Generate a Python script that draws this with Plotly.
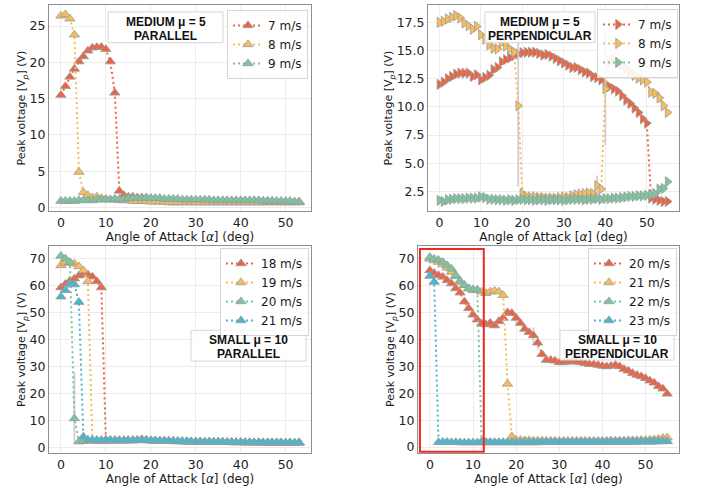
import plotly.graph_objects as go
from plotly.subplots import make_subplots

# ---------------- data ----------------
# angle of attack (deg)
angles_medium_par = list(range(0, 54))
angles_medium_perp = list(range(0, 56))
angles_small_par = list(range(0, 54))
angles_small_perp = list(range(0, 56))

# MEDIUM mu = 5, PARALLEL
med_par_7 = [15.5, 16.7, 18.0, 19.1, 20.1, 20.8, 21.6, 22.0, 22.1, 22.1,
             21.8, 20.1, 15.8, 2.3, 1.7, 1.5, 1.5, 1.4, 1.4, 1.3,
             1.3, 1.2, 1.2, 1.1, 1.1, 1.0, 1.0, 1.0, 0.9, 0.9,
             0.9, 0.9, 0.9, 0.9, 0.9, 0.9, 0.9, 0.9, 0.9, 0.9,
             0.9, 0.9, 0.9, 0.9, 0.9, 0.9, 0.9, 0.9, 0.8, 0.8,
             0.8, 0.8, 0.8, 0.8]
med_par_8 = [26.4, 26.6, 26.0, 23.8, 4.9, 2.1, 1.7, 1.4, 1.5, 1.3,
             1.2, 1.1, 1.1, 1.0, 1.0, 1.0, 0.9, 0.9, 0.9, 0.9,
             0.8, 0.8, 0.8, 0.8, 0.7, 0.7, 0.7, 0.7, 0.7, 0.7,
             0.7, 0.7, 0.7, 0.7, 0.7, 0.7, 0.7, 0.7, 0.7, 0.7,
             0.7, 0.7, 0.7, 0.7, 0.7, 0.7, 0.7, 0.7, 0.7, 0.7,
             0.7, 0.7, 0.7, 0.7]
med_par_9 = [0.9, 0.9, 0.9, 0.9, 1.0, 1.0, 1.0, 1.0, 1.1, 1.1,
             1.1, 1.1, 1.2, 1.2, 1.2, 1.3, 1.3, 1.3, 1.3, 1.4,
             1.3, 1.3, 1.3, 1.2, 1.2, 1.2, 1.2, 1.1, 1.1, 1.1,
             1.1, 1.1, 1.1, 1.1, 1.0, 1.0, 1.0, 1.0, 1.0, 1.0,
             1.0, 1.0, 1.0, 1.0, 1.0, 0.9, 0.9, 0.9, 0.9, 0.9,
             0.9, 0.9, 0.8, 0.8]

# MEDIUM mu = 5, PERPENDICULAR
med_perp_7 = [12.0, 12.2, 12.5, 12.7, 12.9, 13.0, 13.0, 13.0, 12.7, 12.85,
              12.4, 12.6, 12.8, 13.3, 13.5, 14.0, 14.2, 14.35, 14.55, 14.7,
              14.8, 14.85, 14.85, 14.85, 14.75, 14.6, 14.65, 14.5, 14.3, 14.1,
              13.9, 13.7, 13.5, 13.5, 13.3, 13.1, 13.0, 12.7, 12.6, 12.4,
              12.0, 11.8, 11.6, 11.4, 11.0, 10.6, 10.3, 9.9, 9.5, 8.95,
              8.55, 1.9, 1.8, 1.7, 1.6, 1.6]
med_perp_8 = [17.5, 17.6, 17.8, 17.95, 18.1, 17.9, 17.45, 17.2, 16.9, 17.15,
              16.4, 16.0, 15.5, 15.2, 15.15, 15.7, 15.4, 15.15, 14.85, 10.1,
              2.3, 2.05, 2.0, 2.0, 1.95, 1.95, 1.9, 1.9, 1.9, 1.95,
              2.0, 1.95, 2.1, 2.2, 2.25, 2.3, 2.35, 2.3, 3.0, 2.7,
              11.6, 14.05, 14.2, 13.9, 13.7, 13.4, 13.1, 12.8, 12.55, 12.4,
              12.2, 11.3, 11.2, 10.8, 10.1, 9.5]
med_perp_9 = [1.7, 1.6, 1.75, 1.8, 1.85, 1.85, 1.85, 1.9, 1.9, 1.9,
              2.0, 1.95, 1.8, 1.8, 1.75, 1.75, 1.7, 1.75, 1.7, 1.75,
              1.8, 1.75, 1.75, 1.7, 1.75, 1.75, 1.7, 1.75, 1.75, 1.75,
              1.7, 1.75, 1.8, 1.8, 1.8, 1.75, 1.8, 1.8, 1.85, 1.8,
              1.85, 1.85, 1.9, 1.9, 1.95, 2.0, 2.05, 2.05, 2.1, 2.1,
              2.15, 2.2, 2.3, 2.7, 2.75, 3.35]

# SMALL mu = 10, PARALLEL
small_par_18 = [59.2, 60.5, 61.7, 62.5, 63.6, 64.3, 64.0, 63.2, 61.5, 59.2,
                2.8, 2.6, 2.6, 2.5, 2.5, 2.5, 2.5, 2.6, 2.7, 2.6,
                2.5, 2.4, 2.4, 2.3, 2.3, 2.2, 2.2, 2.1, 2.1, 2.1,
                2.0, 2.0, 2.0, 2.0, 1.9, 1.9, 1.9, 1.9, 1.8, 1.8,
                1.8, 1.8, 1.8, 1.8, 1.8, 1.7, 1.7, 1.7, 1.7, 1.7,
                1.7, 1.7, 1.7, 1.7]
small_par_19 = [67.4, 68.3, 68.5, 68.0, 67.0, 65.5, 61.5, 2.4, 2.3, 2.3,
                2.3, 2.4, 2.4, 2.4, 2.5, 2.5, 2.6, 2.7, 3.0, 2.8,
                2.6, 2.5, 2.4, 2.4, 2.3, 2.3, 2.2, 2.2, 2.1, 2.1,
                2.1, 2.0, 2.0, 2.0, 2.0, 1.9, 1.9, 1.9, 1.9, 1.8,
                1.8, 1.8, 1.8, 1.8, 1.8, 1.8, 1.7, 1.7, 1.7, 1.7,
                1.7, 1.7, 1.7, 1.7]
small_par_20 = [70.9, 69.9, 68.6, 10.7, 2.1, 2.3, 2.5, 2.6, 2.6, 2.6,
                2.6, 2.6, 2.6, 2.6, 2.6, 2.6, 2.6, 2.6, 2.7, 2.6,
                2.5, 2.5, 2.4, 2.4, 2.3, 2.3, 2.3, 2.2, 2.2, 2.1,
                2.1, 2.1, 2.0, 2.0, 2.0, 2.0, 1.9, 1.9, 1.9, 1.9,
                1.9, 1.8, 1.8, 1.8, 1.8, 1.8, 1.8, 1.8, 1.8, 1.7,
                1.7, 1.7, 1.7, 1.7]
small_par_21 = [55.8, 58.2, 60.6, 60.3, 53.8, 3.9, 2.8, 2.7, 2.7, 2.6,
                2.6, 2.6, 2.6, 2.6, 2.6, 2.6, 2.6, 2.6, 2.6, 2.6,
                2.5, 2.5, 2.4, 2.4, 2.4, 2.3, 2.3, 2.3, 2.2, 2.2,
                2.1, 2.1, 2.1, 2.0, 2.0, 2.0, 2.0, 1.9, 1.9, 1.9,
                1.9, 1.9, 1.8, 1.8, 1.8, 1.8, 1.8, 1.8, 1.8, 1.8,
                1.7, 1.7, 1.7, 1.7]

# SMALL mu = 10, PERPENDICULAR
small_perp_20 = [65.7, 64.7, 63.9, 63.3, 62.0, 60.8, 59.0, 57.4, 54.1, 51.6,
                 49.2, 47.4, 45.9, 45.6, 46.2, 45.2, 46.8, 48.0, 50.1, 49.8,
                 48.0, 46.1, 43.9, 42.7, 41.5, 38.8, 34.5, 32.4, 32.4, 32.1,
                 31.5, 31.5, 31.7, 32.1, 31.7, 31.5, 31.2, 30.8, 30.8, 30.5,
                 30.2, 30.0, 30.2, 30.5, 30.0, 29.0, 28.4, 27.5, 26.8, 26.3,
                 25.6, 24.7, 23.9, 22.6, 21.7, 19.8]
small_perp_21 = [70.0, 69.4, 68.8, 67.9, 66.7, 65.1, 63.5, 61.4, 60.2, 59.0,
                 58.4, 58.4, 57.8, 57.2, 57.8, 58.1, 57.8, 56.5, 23.5, 3.9,
                 2.7, 2.6, 2.5, 2.5, 2.4, 2.4, 2.4, 2.3, 2.3, 2.3,
                 2.3, 2.3, 2.3, 2.3, 2.3, 2.3, 2.3, 2.3, 2.3, 2.3,
                 2.3, 2.3, 2.4, 2.4, 2.4, 2.4, 2.5, 2.5, 2.5, 2.6,
                 2.6, 2.7, 2.8, 3.0, 3.3, 3.5]
small_perp_22 = [70.6, 70.0, 69.6, 68.8, 67.6, 66.3, 63.9, 61.8, 60.2, 59.0,
                 58.6, 58.4, 2.1, 1.9, 1.9, 1.8, 1.8, 1.8, 1.8, 1.8,
                 1.8, 1.8, 1.8, 1.8, 1.8, 1.8, 1.8, 1.8, 1.8, 1.8,
                 1.8, 1.8, 1.8, 1.8, 1.9, 1.9, 1.9, 1.9, 1.9, 1.9,
                 1.9, 1.9, 2.0, 2.0, 2.0, 2.0, 2.0, 2.0, 2.0, 2.1,
                 2.1, 2.1, 2.1, 2.2, 2.2, 2.2]
small_perp_23 = [63.6, 61.4, 1.8, 1.9, 1.9, 1.8, 1.8, 1.7, 1.7, 1.7,
                 1.7, 1.7, 1.7, 1.7, 1.7, 1.7, 1.7, 1.7, 1.7, 1.7,
                 1.7, 1.7, 1.7, 1.7, 1.7, 1.7, 1.8, 1.8, 1.8, 1.8,
                 1.8, 1.8, 1.8, 1.8, 1.8, 1.8, 1.8, 1.8, 1.8, 1.8,
                 1.9, 1.9, 1.9, 1.9, 1.9, 1.9, 1.9, 2.0, 2.0, 2.0,
                 2.0, 2.0, 2.0, 2.1, 2.1, 2.1]

# standard deviations: a typical spread per panel plus the larger ones
err_base = {"med_par": 0.25, "med_perp": 0.2, "small_par": 0.6, "small_perp": 0.7}
err_large = {
    ("med_perp", "8", 19): 7.2,
    ("med_perp", "8", 38): 0.9,
    ("med_perp", "8", 40): 5.0,
    ("med_perp", "8", 53): 0.4,
    ("med_perp", "8", 54): 0.4,
    ("med_perp", "9", 53): 0.35,
    ("med_perp", "9", 54): 0.35,
    ("med_perp", "9", 55): 0.35,
    ("small_perp", "20", 20): 2.0,
    ("small_perp", "20", 24): 3.0,
    ("small_perp", "20", 25): 2.5,
}
# one-sided spread at the stall point of the 20 m/s parallel run
small_par_20_err_up = 17.0
small_par_20_err_down = 9.0

# panel labels (two lines each)
labels = {
    "med_par": ("MEDIUM μ = 5", "PARALLEL"),
    "med_perp": ("MEDIUM μ = 5", "PERPENDICULAR"),
    "small_par": ("SMALL μ = 10", "PARALLEL"),
    "small_perp": ("SMALL μ = 10", "PERPENDICULAR"),
}

# ---------------- style ----------------
COLORS = ["#EB6544", "#F5BE5A", "#7DC4A0", "#46B8D0"]
EDGE = "#9a9a9a"
ERR = "#cfcfcf"
FONT = "DejaVu Sans"
W, H = 702, 491

panels = [
    dict(key="med_par", x=angles_medium_par, series=[("7", med_par_7), ("8", med_par_8), ("9", med_par_9)],
         symbol="triangle-up", dom_x=(49, 311), dom_y=(5, 213), xr=(-2.65, 55.65), yr=(-0.5, 27.9),
         dtick=5, fmt="", legend="legend"),
    dict(key="med_perp", x=angles_medium_perp, series=[("7", med_perp_7), ("8", med_perp_8), ("9", med_perp_9)],
         symbol="triangle-right", dom_x=(428, 679), dom_y=(5, 213), xr=(-2.75, 57.75), yr=(0.73, 19.05),
         dtick=2.5, fmt=".1f", legend="legend2"),
    dict(key="small_par", x=angles_small_par,
         series=[("18", small_par_18), ("19", small_par_19), ("20", small_par_20), ("21", small_par_21)],
         symbol="triangle-up", dom_x=(49, 311), dom_y=(248, 457), xr=(-2.65, 55.65), yr=(-2.2, 74.6),
         dtick=10, fmt="", legend="legend3"),
    dict(key="small_perp", x=angles_small_perp,
         series=[("20", small_perp_20), ("21", small_perp_21), ("22", small_perp_22), ("23", small_perp_23)],
         symbol="triangle-up", dom_x=(418, 679), dom_y=(248, 457), xr=(-2.75, 57.75), yr=(-2.3, 74.8),
         dtick=10, fmt="", legend="legend4"),
]

# legend anchors (px from top-left) and label boxes (left, top, right, bottom)
legend_boxes = {"legend": (227, 10), "legend2": (597, 9), "legend3": (220, 250), "legend4": (588, 250)}
label_boxes = {"med_par": (108, 12, 223, 43), "med_perp": (485, 12, 595, 43),
               "small_par": (191, 333, 306, 364), "small_perp": (560, 333, 674, 363)}

fig = make_subplots(rows=2, cols=2)

for i, p in enumerate(panels):
    row, col = i // 2 + 1, i % 2 + 1
    for j, (speed, vals) in enumerate(p["series"]):
        n = len(vals)
        up = [err_large.get((p["key"], speed, k), err_base[p["key"]]) for k in range(n)]
        down = list(up)
        if p["key"] == "small_par" and speed == "20":
            up[3] = small_par_20_err_up
            down[3] = small_par_20_err_down
        fig.add_trace(go.Scatter(
            x=p["x"], y=vals, mode="lines+markers", name=f"{speed} m/s",
            line=dict(color=COLORS[j], width=2, dash="2px,3px"),
            marker=dict(symbol=p["symbol"], size=9, color=COLORS[j],
                        line=dict(color=EDGE, width=0.8)),
            error_y=dict(type="data", array=up, arrayminus=down, symmetric=False,
                         color=ERR, thickness=1.8, width=0),
            legend=p["legend"],
        ), row=row, col=col)

    ax = "" if i == 0 else str(i + 1)
    x0, x1 = p["dom_x"]
    yt, yb = p["dom_y"]
    fig.update_layout(**{
        f"xaxis{ax}": dict(domain=[x0 / W, x1 / W], range=list(p["xr"]), dtick=10, tick0=0,
                           title=dict(text="Angle of Attack [<i>α</i>] (deg)", standoff=2,
                                      font=dict(family=FONT, size=12, color="#1a1a1a"))),
        f"yaxis{ax}": dict(domain=[1 - yb / H, 1 - yt / H], range=list(p["yr"]), dtick=p["dtick"], tick0=0,
                           tickformat=p["fmt"],
                           title=dict(text="Peak voltage [V<sub><i>p</i></sub>] (V)", standoff=0,
                                      font=dict(family=FONT, size=11, color="#1a1a1a"))),
    })
    lx, ly = legend_boxes[p["legend"]]
    fig.update_layout(**{p["legend"]: dict(
        x=lx / W, y=1 - ly / H, xanchor="left", yanchor="top", xref="paper", yref="paper",
        bgcolor="rgba(255,255,255,0.85)", bordercolor="#d6d6d6", borderwidth=1,
        font=dict(family=FONT, size=12, color="#1a1a1a"), tracegroupgap=0, itemwidth=30,
    )})

    # label box with two bold lines
    bl, bt, br, bb = label_boxes[p["key"]]
    fig.add_shape(type="rect", xref="paper", yref="paper",
                  x0=bl / W, x1=br / W, y0=1 - bb / H, y1=1 - bt / H,
                  line=dict(color="#d6d6d6", width=1), fillcolor="rgba(255,255,255,0.85)", layer="above")
    cx = (bl + br) / 2
    line1, line2 = labels[p["key"]]
    for txt, cy in ((line1, bt + 10), (line2, bt + 24)):
        fig.add_annotation(
            x=cx / W, y=1 - cy / H, xref="paper", yref="paper", xanchor="center", yanchor="middle",
            text=f"<b>{txt}</b>", showarrow=False,
            font=dict(family="Liberation Sans", size=12, color="#111111"),
        )

fig.update_xaxes(showline=True, mirror=True, linecolor="#8f8f8f", linewidth=1,
                 showgrid=True, gridcolor="#ececec", gridwidth=1, zeroline=False,
                 ticks="", tickfont=dict(family=FONT, size=12.5, color="#222222"))
fig.update_yaxes(showline=True, mirror=True, linecolor="#8f8f8f", linewidth=1,
                 showgrid=True, gridcolor="#ececec", gridwidth=1, zeroline=False,
                 ticks="", tickfont=dict(family=FONT, size=12.5, color="#222222"))

# highlighted low-angle window in the SMALL perpendicular panel
fig.add_shape(type="rect", xref="x4", yref="y4", x0=-2.3, x1=12.5, y0=-1.7, y1=73.7,
              line=dict(color="#F0281C", width=2), fillcolor="rgba(0,0,0,0)", layer="above")

fig.update_layout(width=W, height=H, margin=dict(l=0, r=0, t=0, b=0),
                  paper_bgcolor="white", plot_bgcolor="white", showlegend=True,
                  font=dict(family=FONT))

fig.write_html("out.html")
